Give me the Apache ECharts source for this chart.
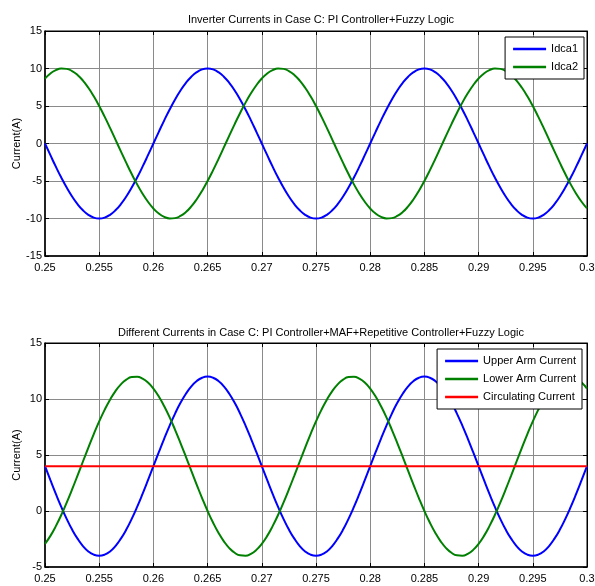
<!DOCTYPE html>
<html>
<head>
<meta charset="utf-8">
<script src="https://cdn.jsdelivr.net/npm/echarts@6/dist/echarts.min.js"></script>
<style>
  html, body { margin: 0; padding: 0; background: #fff; }
  #chart { width: 595px; height: 586px; }
</style>
</head>
<body>
<div id="chart"></div>
<script>
// sample times (s), one every 0.5 ms
const times = [
  0.2500, 0.2505, 0.2510, 0.2515, 0.2520, 0.2525, 0.2530, 0.2535, 0.2540, 0.2545,
  0.2550, 0.2555, 0.2560, 0.2565, 0.2570, 0.2575, 0.2580, 0.2585, 0.2590, 0.2595,
  0.2600, 0.2605, 0.2610, 0.2615, 0.2620, 0.2625, 0.2630, 0.2635, 0.2640, 0.2645,
  0.2650, 0.2655, 0.2660, 0.2665, 0.2670, 0.2675, 0.2680, 0.2685, 0.2690, 0.2695,
  0.2700, 0.2705, 0.2710, 0.2715, 0.2720, 0.2725, 0.2730, 0.2735, 0.2740, 0.2745,
  0.2750, 0.2755, 0.2760, 0.2765, 0.2770, 0.2775, 0.2780, 0.2785, 0.2790, 0.2795,
  0.2800, 0.2805, 0.2810, 0.2815, 0.2820, 0.2825, 0.2830, 0.2835, 0.2840, 0.2845,
  0.2850, 0.2855, 0.2860, 0.2865, 0.2870, 0.2875, 0.2880, 0.2885, 0.2890, 0.2895,
  0.2900, 0.2905, 0.2910, 0.2915, 0.2920, 0.2925, 0.2930, 0.2935, 0.2940, 0.2945,
  0.2950, 0.2955, 0.2960, 0.2965, 0.2970, 0.2975, 0.2980, 0.2985, 0.2990, 0.2995,
  0.3000
];

// top plot: inverter currents (A)
const idca1 = [
  0, -1.56, -3.09, -4.54, -5.88, -7.07, -8.09, -8.91, -9.51, -9.88,
  -10, -9.88, -9.51, -8.91, -8.09, -7.07, -5.88, -4.54, -3.09, -1.56,
  0, 1.56, 3.09, 4.54, 5.88, 7.07, 8.09, 8.91, 9.51, 9.88,
  10, 9.88, 9.51, 8.91, 8.09, 7.07, 5.88, 4.54, 3.09, 1.56,
  0, -1.56, -3.09, -4.54, -5.88, -7.07, -8.09, -8.91, -9.51, -9.88,
  -10, -9.88, -9.51, -8.91, -8.09, -7.07, -5.88, -4.54, -3.09, -1.56,
  0, 1.56, 3.09, 4.54, 5.88, 7.07, 8.09, 8.91, 9.51, 9.88,
  10, 9.88, 9.51, 8.91, 8.09, 7.07, 5.88, 4.54, 3.09, 1.56,
  0, -1.56, -3.09, -4.54, -5.88, -7.07, -8.09, -8.91, -9.51, -9.88,
  -10, -9.88, -9.51, -8.91, -8.09, -7.07, -5.88, -4.54, -3.09, -1.56,
  0
];
const idca2 = [
  8.66, 9.34, 9.78, 9.99, 9.95, 9.66, 9.14, 8.39, 7.43, 6.29,
  5.0, 3.58, 2.08, 0.52, -1.05, -2.59, -4.07, -5.45, -6.69, -7.77,
  -8.66, -9.34, -9.78, -9.99, -9.95, -9.66, -9.14, -8.39, -7.43, -6.29,
  -5.0, -3.58, -2.08, -0.52, 1.05, 2.59, 4.07, 5.45, 6.69, 7.77,
  8.66, 9.34, 9.78, 9.99, 9.95, 9.66, 9.14, 8.39, 7.43, 6.29,
  5.0, 3.58, 2.08, 0.52, -1.05, -2.59, -4.07, -5.45, -6.69, -7.77,
  -8.66, -9.34, -9.78, -9.99, -9.95, -9.66, -9.14, -8.39, -7.43, -6.29,
  -5.0, -3.58, -2.08, -0.52, 1.05, 2.59, 4.07, 5.45, 6.69, 7.77,
  8.66, 9.34, 9.78, 9.99, 9.95, 9.66, 9.14, 8.39, 7.43, 6.29,
  5.0, 3.58, 2.08, 0.52, -1.05, -2.59, -4.07, -5.45, -6.69, -7.77,
  -8.66
];

// bottom plot: arm currents (A)
const upperArm = [
  4, 2.75, 1.53, 0.37, -0.70, -1.66, -2.47, -3.13, -3.61, -3.90,
  -4, -3.90, -3.61, -3.13, -2.47, -1.66, -0.70, 0.37, 1.53, 2.75,
  4, 5.25, 6.47, 7.63, 8.70, 9.66, 10.47, 11.13, 11.61, 11.90,
  12, 11.90, 11.61, 11.13, 10.47, 9.66, 8.70, 7.63, 6.47, 5.25,
  4, 2.75, 1.53, 0.37, -0.70, -1.66, -2.47, -3.13, -3.61, -3.90,
  -4, -3.90, -3.61, -3.13, -2.47, -1.66, -0.70, 0.37, 1.53, 2.75,
  4, 5.25, 6.47, 7.63, 8.70, 9.66, 10.47, 11.13, 11.61, 11.90,
  12, 11.90, 11.61, 11.13, 10.47, 9.66, 8.70, 7.63, 6.47, 5.25,
  4, 2.75, 1.53, 0.37, -0.70, -1.66, -2.47, -3.13, -3.61, -3.90,
  -4, -3.90, -3.61, -3.13, -2.47, -1.66, -0.70, 0.37, 1.53, 2.75,
  4
];
const lowerArm = [
  -2.93, -2.22, -1.35, -0.36, 0.75, 1.93, 3.16, 4.42, 5.66, 6.87,
  8, 9.03, 9.94, 10.71, 11.31, 11.73, 11.96, 11.99, 11.82, 11.47,
  10.93, 10.22, 9.35, 8.36, 7.25, 6.07, 4.84, 3.58, 2.34, 1.13,
  0, -1.03, -1.94, -2.71, -3.31, -3.73, -3.96, -3.99, -3.82, -3.47,
  -2.93, -2.22, -1.35, -0.36, 0.75, 1.93, 3.16, 4.42, 5.66, 6.87,
  8, 9.03, 9.94, 10.71, 11.31, 11.73, 11.96, 11.99, 11.82, 11.47,
  10.93, 10.22, 9.35, 8.36, 7.25, 6.07, 4.84, 3.58, 2.34, 1.13,
  0, -1.03, -1.94, -2.71, -3.31, -3.73, -3.96, -3.99, -3.82, -3.47,
  -2.93, -2.22, -1.35, -0.36, 0.75, 1.93, 3.16, 4.42, 5.66, 6.87,
  8, 9.03, 9.94, 10.71, 11.31, 11.73, 11.96, 11.99, 11.82, 11.47,
  10.93
];
const circTimes = [0.25, 0.3];
const circulating = [4, 4];

const FONT = 'Liberation Sans, Arial, sans-serif';

const chart = echarts.init(document.getElementById('chart'));

const pairs = (xs, ys) => xs.map((x, i) => [x, ys[i]]);

function xAxes(gridIndex) {
    const base = {
        type: 'value', gridIndex: gridIndex,
        min: 0.25, max: 0.3, interval: 0.005
    };
    return [
        Object.assign({}, base, {
            position: 'bottom',
            axisLine: { onZero: false, lineStyle: { color: '#000', width: 1.5 } },
            axisTick: { inside: true, length: 4, lineStyle: { color: '#000' } },
            axisLabel: {
                color: '#000', fontSize: 11, fontFamily: FONT, margin: 6,
                formatter: v => String(+v.toFixed(3))
            },
            splitLine: { show: true, lineStyle: { color: '#8a8a8a', width: 1 } }
        }),
        Object.assign({}, base, {
            position: 'top',
            axisLine: { onZero: false, lineStyle: { color: '#000', width: 1 } },
            axisTick: { inside: true, length: 4, lineStyle: { color: '#000' } },
            axisLabel: { show: false },
            splitLine: { show: false }
        })
    ];
}

function yAxes(gridIndex, min, max) {
    const base = { type: 'value', gridIndex: gridIndex, min: min, max: max, interval: 5 };
    return [
        Object.assign({}, base, {
            position: 'left',
            name: 'Current(A)',
            nameLocation: 'middle',
            nameGap: 23,
            nameMoveOverlap: false,
            nameTextStyle: { color: '#000', fontSize: 11, fontFamily: FONT },
            axisLine: { onZero: false, lineStyle: { color: '#000', width: 1.5 } },
            axisTick: { inside: true, length: 4, lineStyle: { color: '#000' } },
            axisLabel: { color: '#000', fontSize: 11, fontFamily: FONT, margin: 3 },
            splitLine: { show: true, lineStyle: { color: '#8a8a8a', width: 1 } }
        }),
        Object.assign({}, base, {
            position: 'right',
            axisLine: { onZero: false, lineStyle: { color: '#000', width: 1 } },
            axisTick: { inside: true, length: 4, lineStyle: { color: '#000' } },
            axisLabel: { show: false },
            splitLine: { show: false }
        })
    ];
}

const legendBase = {
    orient: 'vertical',
    backgroundColor: '#fff',
    borderColor: '#000',
    borderWidth: 1,
    borderRadius: 0,
    padding: [5, 6, 5, 8],
    itemGap: 4,
    itemWidth: 33,
    itemHeight: 2.5,
    icon: 'rect',
    textStyle: { color: '#000', fontSize: 11, fontFamily: FONT, lineHeight: 14 }
};

function line(name, data, color, xi, yi) {
    return {
        name: name, type: 'line', data: data,
        xAxisIndex: xi, yAxisIndex: yi,
        smooth: true, symbol: 'none',
        lineStyle: { color: color, width: 2 },
        itemStyle: { color: color }
    };
}

const option = {
    animation: false,
    backgroundColor: '#fff',
    title: [
        {
            text: 'Inverter Currents in Case C: PI Controller+Fuzzy Logic',
            left: 316, top: 9, textAlign: 'center',
            textStyle: { color: '#000', fontSize: 11, fontWeight: 'normal', fontFamily: FONT }
        },
        {
            text: 'Different Currents in Case C: PI Controller+MAF+Repetitive Controller+Fuzzy Logic',
            left: 316, top: 322, textAlign: 'center',
            textStyle: { color: '#000', fontSize: 11, fontWeight: 'normal', fontFamily: FONT }
        }
    ],
    legend: [
        Object.assign({}, legendBase, {
            data: ['Idca1', 'Idca2'],
            right: 11, top: 37
        }),
        Object.assign({}, legendBase, {
            data: ['Upper Arm Current', 'Lower Arm Current', 'Circulating Current'],
            right: 13, top: 349
        })
    ],
    grid: [
        { left: 45, top: 31, width: 542, height: 225, outerBoundsMode: 'none',
          show: true, borderColor: '#000', borderWidth: 1 },
        { left: 45, top: 343, width: 542, height: 224, outerBoundsMode: 'none',
          show: true, borderColor: '#000', borderWidth: 1 }
    ],
    xAxis: xAxes(0).concat(xAxes(1)),
    yAxis: yAxes(0, -15, 15).concat(yAxes(1, -5, 15)),
    series: [
        line('Idca1', pairs(times, idca1), '#0000ff', 0, 0),
        line('Idca2', pairs(times, idca2), '#008000', 0, 0),
        line('Upper Arm Current', pairs(times, upperArm), '#0000ff', 2, 2),
        line('Lower Arm Current', pairs(times, lowerArm), '#008000', 2, 2),
        line('Circulating Current', pairs(circTimes, circulating), '#ff0000', 2, 2)
    ]
};

chart.setOption(option);
</script>
</body>
</html>
